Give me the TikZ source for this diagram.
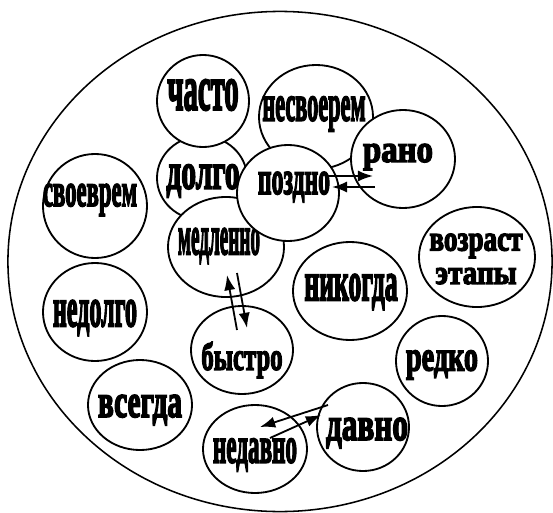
\documentclass[tikz,border=0pt]{standalone}
\usepackage{fontspec}
\setmainfont{Liberation Serif}
\usepackage{graphicx}
\usetikzlibrary{arrows.meta,shapes.geometric,calc}
\font\heavyfont="Liberation Serif/B:embolden=4" at 12pt
\tikzset{
  ring/.style={ellipse,draw=black,line width=1.1pt,inner sep=0pt,minimum width=13.6cm,minimum height=12.5cm},
  bubble/.style={ellipse,draw=black,fill=white,line width=1.3pt,inner sep=0pt},
  word/.style={font=\heavyfont,inner sep=0pt,align=center},
  pair/.style={-{Latex[length=3.8mm,width=2.8mm]},draw=black,line width=1.3pt}
}
\newcommand{\fitword}[3]{\resizebox{#1}{#2}{#3}}

\begin{document}
\begin{tikzpicture}[x=0.025cm,y=-0.025cm]
  \useasboundingbox (0,0) rectangle (553,513);
  \node[ring] (whole) at (280,261.5) {};

  % bubbles that overlap, back to front
  \node[bubble,minimum width=2.25cm,minimum height=2.1cm] (dolgo) at (202,178) {};
  \node[word] (w-dolgo) at (203,181) {\fitword{1.83cm}{.6cm}{долго}};
  \node[bubble,minimum width=2.9cm,minimum height=2.5cm] (medl) at (226,247) {};
  \node[word] (w-medl) at (219,246) {\fitword{2.05cm}{.65cm}{медленно}};
  \node[bubble,minimum width=2.85cm,minimum height=2.6cm] (nesvo) at (316,117) {};
  \node[word] (w-nesvo) at (314,114) {\fitword{2.58cm}{.6cm}{несвоерем}};
  \node[bubble,minimum width=2.3cm,minimum height=2.3cm] (chasto) at (203,101) {};
  \node[word] (w-chasto) at (203,95) {\fitword{1.78cm}{.75cm}{часто}};
  \node[bubble,minimum width=2.55cm,minimum height=2.4cm] (pozdno) at (288,193) {};
  \node[word] (w-pozdno) at (294,187) {\fitword{1.8cm}{.55cm}{поздно}};
  \node[bubble,minimum width=2.6cm,minimum height=2.45cm] (rano) at (403,159) {};
  \node[word] (w-rano) at (398,157) {\fitword{1.75cm}{.45cm}{рано}};

  % the rest
  \node[bubble,minimum width=2.6cm,minimum height=2.6cm] (svoe) at (95,206) {};
  \node[word] (w-svoe) at (90,200) {\fitword{2.35cm}{.55cm}{своеврем}};
  \node[bubble,minimum width=2.9cm,minimum height=2.5cm] (vozrast) at (477,257) {};
  \node[word] (w-vozrast) at (476,259) {\fitword{2.33cm}{.42cm}{возраст}\\[6pt]\fitword{2.03cm}{.4cm}{этапы}};
  \node[bubble,minimum width=2.85cm,minimum height=2.45cm] (nikogda) at (350,291) {};
  \node[word] (w-nikogda) at (351,292) {\fitword{2.33cm}{.65cm}{никогда}};
  \node[bubble,minimum width=2.6cm,minimum height=2.45cm] (nedolgo) at (95,312) {};
  \node[word] (w-nedolgo) at (95,318) {\fitword{2.1cm}{.65cm}{недолго}};
  \node[bubble,minimum width=2.55cm,minimum height=2.2cm] (bystro) at (242,350) {};
  \node[word] (w-bystro) at (242,360) {\fitword{2.03cm}{.7cm}{быстро}};
  \node[bubble,minimum width=2.3cm,minimum height=2.25cm] (redko) at (442,361) {};
  \node[word] (w-redko) at (442,365) {\fitword{1.8cm}{.5cm}{редко}};
  \node[bubble,minimum width=2.6cm,minimum height=2.25cm] (vsegda) at (140,405) {};
  \node[word] (w-vsegda) at (140,410) {\fitword{2.1cm}{.55cm}{всегда}};
  \node[bubble,minimum width=2.3cm,minimum height=2.2cm] (davno) at (363,427) {};
  \node[word] (w-davno) at (367,433) {\fitword{2.05cm}{.55cm}{давно}};
  \node[bubble,minimum width=2.6cm,minimum height=2.2cm] (nedavno) at (255,449) {};
  \node[word] (w-nedavno) at (255,455) {\fitword{2.1cm}{.6cm}{недавно}};

  % paired arrows
  \draw[pair] ($(pozdno)+(40,-17)$) -- ($(rano)+(-30,17)$);
  \draw[pair] ($(rano)+(-28,28)$) -- ($(pozdno)+(44,-6)$);
  \draw[pair] ($(bystro)+(-5,-20)$) -- ($(medl)+(1,28)$);
  \draw[pair] ($(medl)+(11,26)$) -- ($(bystro)+(5,-22)$);
  \draw[pair] ($(davno)+(-35,-22)$) -- ($(nedavno)+(5,-22)$);
  \draw[pair] ($(nedavno)+(15,-11)$) -- ($(davno)+(-42,-12)$);
\end{tikzpicture}
\end{document}
